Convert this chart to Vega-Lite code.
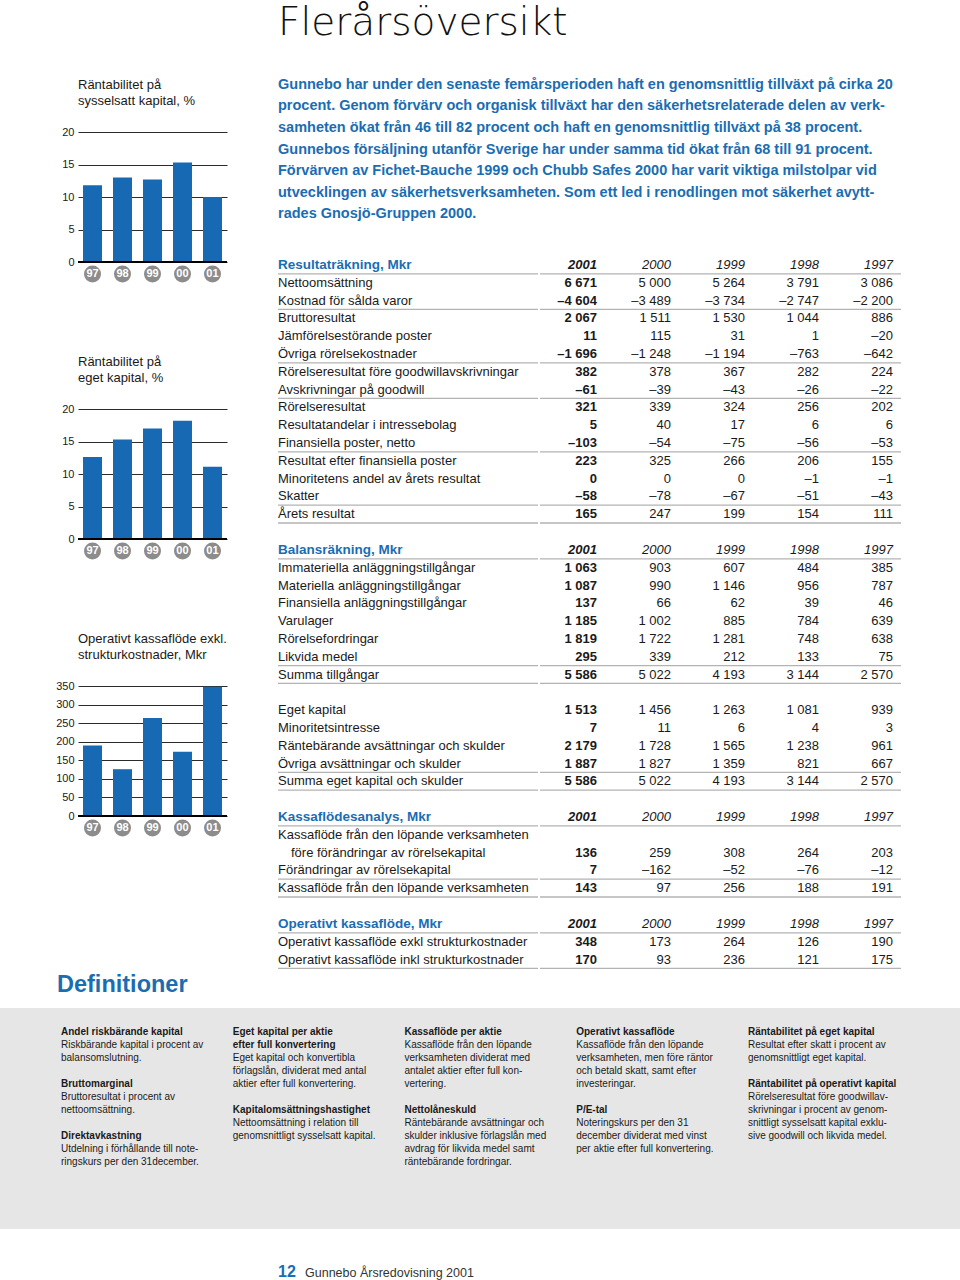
{
  "$schema": "https://vega.github.io/schema/vega-lite/v6.json",
  "background": "white",
  "padding": {"top": 4, "left": 0, "right": 0, "bottom": 0},
  "config": {
    "view": {"stroke": null},
    "font": "Liberation Sans",
    "locale": {"number": {"decimal": ",", "thousands": "\u00a0", "grouping": [3], "currency": ["", " kr"], "minus": "\u2013"}}
  },
  "datasets": {
    "rsk": [{"ar": "97", "varde": 11.8}, {"ar": "98", "varde": 13.0}, {"ar": "99", "varde": 12.7}, {"ar": "00", "varde": 15.3}, {"ar": "01", "varde": 10.0}],
    "rek": [{"ar": "97", "varde": 12.6}, {"ar": "98", "varde": 15.3}, {"ar": "99", "varde": 17.0}, {"ar": "00", "varde": 18.2}, {"ar": "01", "varde": 11.1}],
    "okf": [{"ar": "97", "varde": 190}, {"ar": "98", "varde": 126}, {"ar": "99", "varde": 264}, {"ar": "00", "varde": 173}, {"ar": "01", "varde": 348}],
    "ingress": [
      {"rad": 0, "text": "Gunnebo har under den senaste femårsperioden haft en genomsnittlig tillväxt på cirka 20"},
      {"rad": 1, "text": "procent. Genom förvärv och organisk tillväxt har den säkerhetsrelaterade delen av verk-"},
      {"rad": 2, "text": "samheten ökat från 46 till 82 procent och haft en genomsnittlig tillväxt på 38 procent."},
      {"rad": 3, "text": "Gunnebos försäljning utanför Sverige har under samma tid ökat från 68 till 91 procent."},
      {"rad": 4, "text": "Förvärven av Fichet-Bauche 1999 och Chubb Safes 2000 har varit viktiga milstolpar vid"},
      {"rad": 5, "text": "utvecklingen av säkerhetsverksamheten. Som ett led i renodlingen mot säkerhet avytt-"},
      {"rad": 6, "text": "rades Gnosjö-Gruppen 2000."}
    ],
    "resultat": [
      {"rad": 0, "post": "Resultaträkning, Mkr"},
      {"rad": 1, "post": "Nettoomsättning", "2001": 6671, "2000": 5000, "1999": 5264, "1998": 3791, "1997": 3086},
      {"rad": 2, "post": "Kostnad för sålda varor", "2001": -4604, "2000": -3489, "1999": -3734, "1998": -2747, "1997": -2200},
      {"rad": 3, "post": "Bruttoresultat", "2001": 2067, "2000": 1511, "1999": 1530, "1998": 1044, "1997": 886},
      {"rad": 4, "post": "Jämförelsestörande poster", "2001": 11, "2000": 115, "1999": 31, "1998": 1, "1997": -20},
      {"rad": 5, "post": "Övriga rörelsekostnader", "2001": -1696, "2000": -1248, "1999": -1194, "1998": -763, "1997": -642},
      {"rad": 6, "post": "Rörelseresultat före goodwillavskrivningar", "2001": 382, "2000": 378, "1999": 367, "1998": 282, "1997": 224},
      {"rad": 7, "post": "Avskrivningar på goodwill", "2001": -61, "2000": -39, "1999": -43, "1998": -26, "1997": -22},
      {"rad": 8, "post": "Rörelseresultat", "2001": 321, "2000": 339, "1999": 324, "1998": 256, "1997": 202},
      {"rad": 9, "post": "Resultatandelar i intressebolag", "2001": 5, "2000": 40, "1999": 17, "1998": 6, "1997": 6},
      {"rad": 10, "post": "Finansiella poster, netto", "2001": -103, "2000": -54, "1999": -75, "1998": -56, "1997": -53},
      {"rad": 11, "post": "Resultat efter finansiella poster", "2001": 223, "2000": 325, "1999": 266, "1998": 206, "1997": 155},
      {"rad": 12, "post": "Minoritetens andel av årets resultat", "2001": 0, "2000": 0, "1999": 0, "1998": -1, "1997": -1},
      {"rad": 13, "post": "Skatter", "2001": -58, "2000": -78, "1999": -67, "1998": -51, "1997": -43},
      {"rad": 14, "post": "Årets resultat", "2001": 165, "2000": 247, "1999": 199, "1998": 154, "1997": 111}
    ],
    "balans": [
      {"rad": 0, "post": "Balansräkning, Mkr"},
      {"rad": 1, "post": "Immateriella anläggningstillgångar", "2001": 1063, "2000": 903, "1999": 607, "1998": 484, "1997": 385},
      {"rad": 2, "post": "Materiella anläggningstillgångar", "2001": 1087, "2000": 990, "1999": 1146, "1998": 956, "1997": 787},
      {"rad": 3, "post": "Finansiella anläggningstillgångar", "2001": 137, "2000": 66, "1999": 62, "1998": 39, "1997": 46},
      {"rad": 4, "post": "Varulager", "2001": 1185, "2000": 1002, "1999": 885, "1998": 784, "1997": 639},
      {"rad": 5, "post": "Rörelsefordringar", "2001": 1819, "2000": 1722, "1999": 1281, "1998": 748, "1997": 638},
      {"rad": 6, "post": "Likvida medel", "2001": 295, "2000": 339, "1999": 212, "1998": 133, "1997": 75},
      {"rad": 7, "post": "Summa tillgångar", "2001": 5586, "2000": 5022, "1999": 4193, "1998": 3144, "1997": 2570},
      {"rad": 9, "post": "Eget kapital", "2001": 1513, "2000": 1456, "1999": 1263, "1998": 1081, "1997": 939},
      {"rad": 10, "post": "Minoritetsintresse", "2001": 7, "2000": 11, "1999": 6, "1998": 4, "1997": 3},
      {"rad": 11, "post": "Räntebärande avsättningar och skulder", "2001": 2179, "2000": 1728, "1999": 1565, "1998": 1238, "1997": 961},
      {"rad": 12, "post": "Övriga avsättningar och skulder", "2001": 1887, "2000": 1827, "1999": 1359, "1998": 821, "1997": 667},
      {"rad": 13, "post": "Summa eget kapital och skulder", "2001": 5586, "2000": 5022, "1999": 4193, "1998": 3144, "1997": 2570}
    ],
    "kassaflode": [
      {"rad": 0, "post": "Kassaflödesanalys, Mkr"},
      {"rad": 1, "post": "Kassaflöde från den löpande verksamheten"},
      {"rad": 2, "niva": 2, "post": "före förändringar av rörelsekapital", "2001": 136, "2000": 259, "1999": 308, "1998": 264, "1997": 203},
      {"rad": 3, "post": "Förändringar av rörelsekapital", "2001": 7, "2000": -162, "1999": -52, "1998": -76, "1997": -12},
      {"rad": 4, "post": "Kassaflöde från den löpande verksamheten", "2001": 143, "2000": 97, "1999": 256, "1998": 188, "1997": 191}
    ],
    "operativt": [
      {"rad": 0, "post": "Operativt kassaflöde, Mkr"},
      {"rad": 1, "post": "Operativt kassaflöde exkl strukturkostnader", "2001": 348, "2000": 173, "1999": 264, "1998": 126, "1997": 190},
      {"rad": 2, "post": "Operativt kassaflöde inkl strukturkostnader", "2001": 170, "2000": 93, "1999": 236, "1998": 121, "1997": 175}
    ],
    "linjer": [
      {"tabell": "resultat", "efter": 0}, {"tabell": "resultat", "efter": 2}, {"tabell": "resultat", "efter": 5}, {"tabell": "resultat", "efter": 7}, {"tabell": "resultat", "efter": 10}, {"tabell": "resultat", "efter": 13}, {"tabell": "resultat", "efter": 14},
      {"tabell": "balans", "efter": 0}, {"tabell": "balans", "efter": 6}, {"tabell": "balans", "efter": 7}, {"tabell": "balans", "efter": 12}, {"tabell": "balans", "efter": 13},
      {"tabell": "kassaflode", "efter": 0}, {"tabell": "kassaflode", "efter": 3}, {"tabell": "kassaflode", "efter": 4},
      {"tabell": "operativt", "efter": 0}, {"tabell": "operativt", "efter": 2}
    ],
    "definitioner": [
      {"kol": 1, "rad": 0, "typ": "rubrik", "text": "Andel riskbärande kapital"},
      {"kol": 1, "rad": 1, "typ": "text", "text": "Riskbärande kapital i procent av"},
      {"kol": 1, "rad": 2, "typ": "text", "text": "balansomslutning."},
      {"kol": 1, "rad": 4, "typ": "rubrik", "text": "Bruttomarginal"},
      {"kol": 1, "rad": 5, "typ": "text", "text": "Bruttoresultat i procent av"},
      {"kol": 1, "rad": 6, "typ": "text", "text": "nettoomsättning."},
      {"kol": 1, "rad": 8, "typ": "rubrik", "text": "Direktavkastning"},
      {"kol": 1, "rad": 9, "typ": "text", "text": "Utdelning i förhållande till note-"},
      {"kol": 1, "rad": 10, "typ": "text", "text": "ringskurs per den 31december."},
      {"kol": 2, "rad": 0, "typ": "rubrik", "text": "Eget kapital per aktie"},
      {"kol": 2, "rad": 1, "typ": "rubrik", "text": "efter full konvertering"},
      {"kol": 2, "rad": 2, "typ": "text", "text": "Eget kapital och konvertibla"},
      {"kol": 2, "rad": 3, "typ": "text", "text": "förlagslån, dividerat med antal"},
      {"kol": 2, "rad": 4, "typ": "text", "text": "aktier efter full konvertering."},
      {"kol": 2, "rad": 6, "typ": "rubrik", "text": "Kapitalomsättningshastighet"},
      {"kol": 2, "rad": 7, "typ": "text", "text": "Nettoomsättning i relation till"},
      {"kol": 2, "rad": 8, "typ": "text", "text": "genomsnittligt sysselsatt kapital."},
      {"kol": 3, "rad": 0, "typ": "rubrik", "text": "Kassaflöde per aktie"},
      {"kol": 3, "rad": 1, "typ": "text", "text": "Kassaflöde från den löpande"},
      {"kol": 3, "rad": 2, "typ": "text", "text": "verksamheten dividerat med"},
      {"kol": 3, "rad": 3, "typ": "text", "text": "antalet aktier efter full kon-"},
      {"kol": 3, "rad": 4, "typ": "text", "text": "vertering."},
      {"kol": 3, "rad": 6, "typ": "rubrik", "text": "Nettolåneskuld"},
      {"kol": 3, "rad": 7, "typ": "text", "text": "Räntebärande avsättningar och"},
      {"kol": 3, "rad": 8, "typ": "text", "text": "skulder inklusive förlagslån med"},
      {"kol": 3, "rad": 9, "typ": "text", "text": "avdrag för likvida medel samt"},
      {"kol": 3, "rad": 10, "typ": "text", "text": "räntebärande fordringar."},
      {"kol": 4, "rad": 0, "typ": "rubrik", "text": "Operativt kassaflöde"},
      {"kol": 4, "rad": 1, "typ": "text", "text": "Kassaflöde från den löpande"},
      {"kol": 4, "rad": 2, "typ": "text", "text": "verksamheten, men före räntor"},
      {"kol": 4, "rad": 3, "typ": "text", "text": "och betald skatt, samt efter"},
      {"kol": 4, "rad": 4, "typ": "text", "text": "investeringar."},
      {"kol": 4, "rad": 6, "typ": "rubrik", "text": "P/E-tal"},
      {"kol": 4, "rad": 7, "typ": "text", "text": "Noteringskurs per den 31"},
      {"kol": 4, "rad": 8, "typ": "text", "text": "december dividerat med vinst"},
      {"kol": 4, "rad": 9, "typ": "text", "text": "per aktie efter full konvertering."},
      {"kol": 5, "rad": 0, "typ": "rubrik", "text": "Räntabilitet på eget kapital"},
      {"kol": 5, "rad": 1, "typ": "text", "text": "Resultat efter skatt i procent av"},
      {"kol": 5, "rad": 2, "typ": "text", "text": "genomsnittligt eget kapital."},
      {"kol": 5, "rad": 4, "typ": "rubrik", "text": "Räntabilitet på operativt kapital"},
      {"kol": 5, "rad": 5, "typ": "text", "text": "Rörelseresultat före goodwillav-"},
      {"kol": 5, "rad": 6, "typ": "text", "text": "skrivningar i procent av genom-"},
      {"kol": 5, "rad": 7, "typ": "text", "text": "snittligt sysselsatt kapital exklu-"},
      {"kol": 5, "rad": 8, "typ": "text", "text": "sive goodwill och likvida medel."}
    ]
  },
  "title": {"text": "Flerårsöversikt", "anchor": "start", "frame": "group", "dx": 278, "font": "DejaVu Sans", "fontSize": 39, "fontWeight": 300, "color": "#111111", "offset": 32},
  "spacing": 2,
  "vconcat": [
    {
      "spacing": 49,
      "hconcat": [
        {"width": 5, "height": 1, "data": {"values": []}, "mark": "point", "encoding": {}},
        {
          "spacing": 2,
          "vconcat": [
            {"width": 1, "height": 1, "data": {"values": []}, "mark": "point", "encoding": {}},
            {
              "spacing": 72,
              "vconcat": [
                {
                  "width": 149, "height": 130,
                  "title": {"text": ["Räntabilitet på", "sysselsatt kapital, %"], "anchor": "start", "frame": "group", "fontSize": 13, "fontWeight": "normal", "color": "#1a1a1a", "lineHeight": 16.5, "offset": 18},
                  "data": {"name": "rsk"},
                  "layer": [
                    {"mark": {"type": "bar", "color": "#1769b3"},
                     "encoding": {
                       "x": {"field": "ar", "type": "ordinal", "scale": {"type": "band", "domain": ["97", "98", "99", "00", "01"], "paddingInner": 0.367, "paddingOuter": 0.167, "round": false}, "axis": null},
                       "y": {"field": "varde", "type": "quantitative", "scale": {"domain": [0, 20], "nice": false}, "axis": {"values": [0, 5, 10, 15, 20], "grid": true, "gridColor": "#2b2b2b", "gridWidth": 1, "domain": false, "ticks": false, "labelPadding": 4, "labelFontSize": 11, "labelColor": "#1a1a1a", "title": null, "minExtent": 24, "maxExtent": 24}}}},
                    {"mark": {"type": "rule", "color": "#000000", "strokeWidth": 2},
                     "encoding": {"y": {"datum": 0, "type": "quantitative", "scale": {"domain": [0, 20], "nice": false}, "axis": {"values": [0, 5, 10, 15, 20], "grid": true, "gridColor": "#2b2b2b", "gridWidth": 1, "domain": false, "ticks": false, "labelPadding": 4, "labelFontSize": 11, "labelColor": "#1a1a1a", "title": null, "minExtent": 24, "maxExtent": 24}}}},
                    {"mark": {"type": "circle", "color": "#8c8c8c", "opacity": 1, "size": 290, "yOffset": 12},
                     "encoding": {"x": {"field": "ar", "type": "ordinal", "axis": null}, "y": {"datum": 0, "type": "quantitative", "scale": {"domain": [0, 20], "nice": false}, "axis": {"values": [0, 5, 10, 15, 20], "grid": true, "gridColor": "#2b2b2b", "gridWidth": 1, "domain": false, "ticks": false, "labelPadding": 4, "labelFontSize": 11, "labelColor": "#1a1a1a", "title": null, "minExtent": 24, "maxExtent": 24}}}},
                    {"mark": {"type": "text", "color": "white", "fontWeight": "bold", "fontSize": 11, "yOffset": 12, "baseline": "middle"},
                     "encoding": {"x": {"field": "ar", "type": "ordinal", "axis": null}, "y": {"datum": 0, "type": "quantitative", "scale": {"domain": [0, 20], "nice": false}, "axis": {"values": [0, 5, 10, 15, 20], "grid": true, "gridColor": "#2b2b2b", "gridWidth": 1, "domain": false, "ticks": false, "labelPadding": 4, "labelFontSize": 11, "labelColor": "#1a1a1a", "title": null, "minExtent": 24, "maxExtent": 24}}, "text": {"field": "ar"}}}
                  ]
                },
                {
                  "width": 149, "height": 130,
                  "title": {"text": ["Räntabilitet på", "eget kapital, %"], "anchor": "start", "frame": "group", "fontSize": 13, "fontWeight": "normal", "color": "#1a1a1a", "lineHeight": 16.5, "offset": 18},
                  "data": {"name": "rek"},
                  "layer": [
                    {"mark": {"type": "bar", "color": "#1769b3"},
                     "encoding": {
                       "x": {"field": "ar", "type": "ordinal", "scale": {"type": "band", "domain": ["97", "98", "99", "00", "01"], "paddingInner": 0.367, "paddingOuter": 0.167, "round": false}, "axis": null},
                       "y": {"field": "varde", "type": "quantitative", "scale": {"domain": [0, 20], "nice": false}, "axis": {"values": [0, 5, 10, 15, 20], "grid": true, "gridColor": "#2b2b2b", "gridWidth": 1, "domain": false, "ticks": false, "labelPadding": 4, "labelFontSize": 11, "labelColor": "#1a1a1a", "title": null, "minExtent": 24, "maxExtent": 24}}}},
                    {"mark": {"type": "rule", "color": "#000000", "strokeWidth": 2},
                     "encoding": {"y": {"datum": 0, "type": "quantitative", "scale": {"domain": [0, 20], "nice": false}, "axis": {"values": [0, 5, 10, 15, 20], "grid": true, "gridColor": "#2b2b2b", "gridWidth": 1, "domain": false, "ticks": false, "labelPadding": 4, "labelFontSize": 11, "labelColor": "#1a1a1a", "title": null, "minExtent": 24, "maxExtent": 24}}}},
                    {"mark": {"type": "circle", "color": "#8c8c8c", "opacity": 1, "size": 290, "yOffset": 12},
                     "encoding": {"x": {"field": "ar", "type": "ordinal", "axis": null}, "y": {"datum": 0, "type": "quantitative", "scale": {"domain": [0, 20], "nice": false}, "axis": {"values": [0, 5, 10, 15, 20], "grid": true, "gridColor": "#2b2b2b", "gridWidth": 1, "domain": false, "ticks": false, "labelPadding": 4, "labelFontSize": 11, "labelColor": "#1a1a1a", "title": null, "minExtent": 24, "maxExtent": 24}}}},
                    {"mark": {"type": "text", "color": "white", "fontWeight": "bold", "fontSize": 11, "yOffset": 12, "baseline": "middle"},
                     "encoding": {"x": {"field": "ar", "type": "ordinal", "axis": null}, "y": {"datum": 0, "type": "quantitative", "scale": {"domain": [0, 20], "nice": false}, "axis": {"values": [0, 5, 10, 15, 20], "grid": true, "gridColor": "#2b2b2b", "gridWidth": 1, "domain": false, "ticks": false, "labelPadding": 4, "labelFontSize": 11, "labelColor": "#1a1a1a", "title": null, "minExtent": 24, "maxExtent": 24}}, "text": {"field": "ar"}}}
                  ]
                },
                {
                  "width": 149, "height": 130,
                  "title": {"text": ["Operativt kassaflöde exkl.", "strukturkostnader, Mkr"], "anchor": "start", "frame": "group", "fontSize": 13, "fontWeight": "normal", "color": "#1a1a1a", "lineHeight": 16.5, "offset": 18},
                  "data": {"name": "okf"},
                  "layer": [
                    {"mark": {"type": "bar", "color": "#1769b3"},
                     "encoding": {
                       "x": {"field": "ar", "type": "ordinal", "scale": {"type": "band", "domain": ["97", "98", "99", "00", "01"], "paddingInner": 0.367, "paddingOuter": 0.167, "round": false}, "axis": null},
                       "y": {"field": "varde", "type": "quantitative", "scale": {"domain": [0, 350], "nice": false}, "axis": {"values": [0, 50, 100, 150, 200, 250, 300, 350], "grid": true, "gridColor": "#2b2b2b", "gridWidth": 1, "domain": false, "ticks": false, "labelPadding": 4, "labelFontSize": 11, "labelColor": "#1a1a1a", "title": null, "minExtent": 24, "maxExtent": 24}}}},
                    {"mark": {"type": "rule", "color": "#000000", "strokeWidth": 2},
                     "encoding": {"y": {"datum": 0, "type": "quantitative", "scale": {"domain": [0, 350], "nice": false}, "axis": {"values": [0, 50, 100, 150, 200, 250, 300, 350], "grid": true, "gridColor": "#2b2b2b", "gridWidth": 1, "domain": false, "ticks": false, "labelPadding": 4, "labelFontSize": 11, "labelColor": "#1a1a1a", "title": null, "minExtent": 24, "maxExtent": 24}}}},
                    {"mark": {"type": "circle", "color": "#8c8c8c", "opacity": 1, "size": 290, "yOffset": 12},
                     "encoding": {"x": {"field": "ar", "type": "ordinal", "axis": null}, "y": {"datum": 0, "type": "quantitative", "scale": {"domain": [0, 350], "nice": false}, "axis": {"values": [0, 50, 100, 150, 200, 250, 300, 350], "grid": true, "gridColor": "#2b2b2b", "gridWidth": 1, "domain": false, "ticks": false, "labelPadding": 4, "labelFontSize": 11, "labelColor": "#1a1a1a", "title": null, "minExtent": 24, "maxExtent": 24}}}},
                    {"mark": {"type": "text", "color": "white", "fontWeight": "bold", "fontSize": 11, "yOffset": 12, "baseline": "middle"},
                     "encoding": {"x": {"field": "ar", "type": "ordinal", "axis": null}, "y": {"datum": 0, "type": "quantitative", "scale": {"domain": [0, 350], "nice": false}, "axis": {"values": [0, 50, 100, 150, 200, 250, 300, 350], "grid": true, "gridColor": "#2b2b2b", "gridWidth": 1, "domain": false, "ticks": false, "labelPadding": 4, "labelFontSize": 11, "labelColor": "#1a1a1a", "title": null, "minExtent": 24, "maxExtent": 24}}, "text": {"field": "ar"}}}
                  ]
                }
              ]
            }
          ]
        },
        {
          "spacing": 32,
          "vconcat": [
            {
              "width": 621, "height": 149,
              "data": {"name": "ingress"},
              "mark": {"type": "text", "align": "left", "baseline": "middle", "fontWeight": "bold", "fontSize": 14.5, "color": "#1a6db3"},
              "encoding": {
                "x": {"datum": "text", "type": "nominal", "scale": {"type": "point", "domain": ["text"], "padding": 0, "align": 0}, "axis": null},
                "y": {"field": "rad", "type": "ordinal", "scale": {"type": "point", "padding": 0.465, "round": false}, "axis": null},
                "text": {"field": "text"}
              }
            },
            {
              "spacing": 17.0,
              "vconcat": [
                {
                  "spacing": 0,
                  "hconcat": [
                    {
                      "width": 260, "height": 267,
                      "data": {"name": "resultat"},
                      "layer": [
                        {"data": {"name": "linjer"}, "transform": [{"filter": "datum.tabell === 'resultat'"}],
                         "mark": {"type": "rule", "color": "#b3b3b3", "strokeWidth": 1.3},
                         "encoding": {"y": {"field": "efter", "type": "ordinal", "bandPosition": 1, "scale": {"type": "band", "domain": [0,1,2,3,4,5,6,7,8,9,10,11,12,13,14], "paddingInner": 0, "paddingOuter": 0, "round": false}, "axis": null}}},
                        {"mark": {"type": "text", "align": "left", "baseline": "middle", "fontWeight": {"expr": "datum.rad === 0 ? 'bold' : 'normal'"}, "dx": {"expr": "datum.niva === 2 ? 13 : 0"}},
                         "encoding": {
                           "x": {"datum": "post", "type": "nominal", "scale": {"type": "point", "domain": ["post"], "padding": 0, "align": 0}, "axis": null},
                           "y": {"field": "rad", "type": "ordinal", "scale": {"type": "band", "domain": [0,1,2,3,4,5,6,7,8,9,10,11,12,13,14], "paddingInner": 0, "paddingOuter": 0, "round": false}, "axis": null},
                           "text": {"field": "post"},
                           "color": {"condition": {"test": "datum.rad === 0", "value": "#1a6db3"}, "value": "#1a1a1a"},
                           "size": {"condition": {"test": "datum.rad === 0", "value": 13.5}, "value": 13}}}
                      ]
                    },
                    {
                      "width": 361, "height": 267,
                      "data": {"name": "resultat"},
                      "transform": [{"fold": ["2001", "2000", "1999", "1998", "1997"], "as": ["ar", "varde"]}],
                      "layer": [
                        {"data": {"name": "linjer"}, "transform": [{"filter": "datum.tabell === 'resultat'"}],
                         "mark": {"type": "rule", "color": "#b3b3b3", "strokeWidth": 1.3},
                         "encoding": {"y": {"field": "efter", "type": "ordinal", "bandPosition": 1, "scale": {"type": "band", "domain": [0,1,2,3,4,5,6,7,8,9,10,11,12,13,14], "paddingInner": 0, "paddingOuter": 0, "round": false}, "axis": null}}},
                        {"transform": [{"filter": "datum.rad === 0"}],
                         "mark": {"type": "text", "align": "right", "baseline": "middle", "fontStyle": "italic", "fontSize": 13, "color": "#1a1a1a", "fontWeight": {"expr": "datum.ar === '2001' ? 'bold' : 'normal'"}},
                         "encoding": {
                           "x": {"field": "ar", "type": "nominal", "scale": {"type": "point", "domain": ["2001", "2000", "1999", "1998", "1997"], "padding": 0.439, "align": 0.877, "round": false}, "axis": null},
                           "y": {"field": "rad", "type": "ordinal", "scale": {"type": "band", "domain": [0,1,2,3,4,5,6,7,8,9,10,11,12,13,14], "paddingInner": 0, "paddingOuter": 0, "round": false}, "axis": null},
                           "text": {"field": "ar"}}},
                        {"transform": [{"filter": "datum.rad !== 0 && isValid(datum.varde)"}],
                         "mark": {"type": "text", "align": "right", "baseline": "middle", "fontSize": 13, "color": "#1a1a1a", "fontWeight": {"expr": "datum.ar === '2001' ? 'bold' : 'normal'"}},
                         "encoding": {
                           "x": {"field": "ar", "type": "nominal", "scale": {"type": "point", "domain": ["2001", "2000", "1999", "1998", "1997"], "padding": 0.439, "align": 0.877, "round": false}, "axis": null},
                           "y": {"field": "rad", "type": "ordinal", "scale": {"type": "band", "domain": [0,1,2,3,4,5,6,7,8,9,10,11,12,13,14], "paddingInner": 0, "paddingOuter": 0, "round": false}, "axis": null},
                           "text": {"field": "varde", "type": "quantitative", "format": ",d"}}}
                      ]
                    }
                  ]
                },
                {
                  "spacing": 0,
                  "hconcat": [
                    {
                      "width": 260, "height": 249.2,
                      "data": {"name": "balans"},
                      "layer": [
                        {"data": {"name": "linjer"}, "transform": [{"filter": "datum.tabell === 'balans'"}],
                         "mark": {"type": "rule", "color": "#b3b3b3", "strokeWidth": 1.3},
                         "encoding": {"y": {"field": "efter", "type": "ordinal", "bandPosition": 1, "scale": {"type": "band", "domain": [0,1,2,3,4,5,6,7,8,9,10,11,12,13], "paddingInner": 0, "paddingOuter": 0, "round": false}, "axis": null}}},
                        {"mark": {"type": "text", "align": "left", "baseline": "middle", "fontWeight": {"expr": "datum.rad === 0 ? 'bold' : 'normal'"}, "dx": {"expr": "datum.niva === 2 ? 13 : 0"}},
                         "encoding": {
                           "x": {"datum": "post", "type": "nominal", "scale": {"type": "point", "domain": ["post"], "padding": 0, "align": 0}, "axis": null},
                           "y": {"field": "rad", "type": "ordinal", "scale": {"type": "band", "domain": [0,1,2,3,4,5,6,7,8,9,10,11,12,13], "paddingInner": 0, "paddingOuter": 0, "round": false}, "axis": null},
                           "text": {"field": "post"},
                           "color": {"condition": {"test": "datum.rad === 0", "value": "#1a6db3"}, "value": "#1a1a1a"},
                           "size": {"condition": {"test": "datum.rad === 0", "value": 13.5}, "value": 13}}}
                      ]
                    },
                    {
                      "width": 361, "height": 249.2,
                      "data": {"name": "balans"},
                      "transform": [{"fold": ["2001", "2000", "1999", "1998", "1997"], "as": ["ar", "varde"]}],
                      "layer": [
                        {"data": {"name": "linjer"}, "transform": [{"filter": "datum.tabell === 'balans'"}],
                         "mark": {"type": "rule", "color": "#b3b3b3", "strokeWidth": 1.3},
                         "encoding": {"y": {"field": "efter", "type": "ordinal", "bandPosition": 1, "scale": {"type": "band", "domain": [0,1,2,3,4,5,6,7,8,9,10,11,12,13], "paddingInner": 0, "paddingOuter": 0, "round": false}, "axis": null}}},
                        {"transform": [{"filter": "datum.rad === 0"}],
                         "mark": {"type": "text", "align": "right", "baseline": "middle", "fontStyle": "italic", "fontSize": 13, "color": "#1a1a1a", "fontWeight": {"expr": "datum.ar === '2001' ? 'bold' : 'normal'"}},
                         "encoding": {
                           "x": {"field": "ar", "type": "nominal", "scale": {"type": "point", "domain": ["2001", "2000", "1999", "1998", "1997"], "padding": 0.439, "align": 0.877, "round": false}, "axis": null},
                           "y": {"field": "rad", "type": "ordinal", "scale": {"type": "band", "domain": [0,1,2,3,4,5,6,7,8,9,10,11,12,13], "paddingInner": 0, "paddingOuter": 0, "round": false}, "axis": null},
                           "text": {"field": "ar"}}},
                        {"transform": [{"filter": "datum.rad !== 0 && isValid(datum.varde)"}],
                         "mark": {"type": "text", "align": "right", "baseline": "middle", "fontSize": 13, "color": "#1a1a1a", "fontWeight": {"expr": "datum.ar === '2001' ? 'bold' : 'normal'"}},
                         "encoding": {
                           "x": {"field": "ar", "type": "nominal", "scale": {"type": "point", "domain": ["2001", "2000", "1999", "1998", "1997"], "padding": 0.439, "align": 0.877, "round": false}, "axis": null},
                           "y": {"field": "rad", "type": "ordinal", "scale": {"type": "band", "domain": [0,1,2,3,4,5,6,7,8,9,10,11,12,13], "paddingInner": 0, "paddingOuter": 0, "round": false}, "axis": null},
                           "text": {"field": "varde", "type": "quantitative", "format": ",d"}}}
                      ]
                    }
                  ]
                },
                {
                  "spacing": 0,
                  "hconcat": [
                    {
                      "width": 260, "height": 89,
                      "data": {"name": "kassaflode"},
                      "layer": [
                        {"data": {"name": "linjer"}, "transform": [{"filter": "datum.tabell === 'kassaflode'"}],
                         "mark": {"type": "rule", "color": "#b3b3b3", "strokeWidth": 1.3},
                         "encoding": {"y": {"field": "efter", "type": "ordinal", "bandPosition": 1, "scale": {"type": "band", "domain": [0,1,2,3,4], "paddingInner": 0, "paddingOuter": 0, "round": false}, "axis": null}}},
                        {"mark": {"type": "text", "align": "left", "baseline": "middle", "fontWeight": {"expr": "datum.rad === 0 ? 'bold' : 'normal'"}, "dx": {"expr": "datum.niva === 2 ? 13 : 0"}},
                         "encoding": {
                           "x": {"datum": "post", "type": "nominal", "scale": {"type": "point", "domain": ["post"], "padding": 0, "align": 0}, "axis": null},
                           "y": {"field": "rad", "type": "ordinal", "scale": {"type": "band", "domain": [0,1,2,3,4], "paddingInner": 0, "paddingOuter": 0, "round": false}, "axis": null},
                           "text": {"field": "post"},
                           "color": {"condition": {"test": "datum.rad === 0", "value": "#1a6db3"}, "value": "#1a1a1a"},
                           "size": {"condition": {"test": "datum.rad === 0", "value": 13.5}, "value": 13}}}
                      ]
                    },
                    {
                      "width": 361, "height": 89,
                      "data": {"name": "kassaflode"},
                      "transform": [{"fold": ["2001", "2000", "1999", "1998", "1997"], "as": ["ar", "varde"]}],
                      "layer": [
                        {"data": {"name": "linjer"}, "transform": [{"filter": "datum.tabell === 'kassaflode'"}],
                         "mark": {"type": "rule", "color": "#b3b3b3", "strokeWidth": 1.3},
                         "encoding": {"y": {"field": "efter", "type": "ordinal", "bandPosition": 1, "scale": {"type": "band", "domain": [0,1,2,3,4], "paddingInner": 0, "paddingOuter": 0, "round": false}, "axis": null}}},
                        {"transform": [{"filter": "datum.rad === 0"}],
                         "mark": {"type": "text", "align": "right", "baseline": "middle", "fontStyle": "italic", "fontSize": 13, "color": "#1a1a1a", "fontWeight": {"expr": "datum.ar === '2001' ? 'bold' : 'normal'"}},
                         "encoding": {
                           "x": {"field": "ar", "type": "nominal", "scale": {"type": "point", "domain": ["2001", "2000", "1999", "1998", "1997"], "padding": 0.439, "align": 0.877, "round": false}, "axis": null},
                           "y": {"field": "rad", "type": "ordinal", "scale": {"type": "band", "domain": [0,1,2,3,4], "paddingInner": 0, "paddingOuter": 0, "round": false}, "axis": null},
                           "text": {"field": "ar"}}},
                        {"transform": [{"filter": "datum.rad !== 0 && isValid(datum.varde)"}],
                         "mark": {"type": "text", "align": "right", "baseline": "middle", "fontSize": 13, "color": "#1a1a1a", "fontWeight": {"expr": "datum.ar === '2001' ? 'bold' : 'normal'"}},
                         "encoding": {
                           "x": {"field": "ar", "type": "nominal", "scale": {"type": "point", "domain": ["2001", "2000", "1999", "1998", "1997"], "padding": 0.439, "align": 0.877, "round": false}, "axis": null},
                           "y": {"field": "rad", "type": "ordinal", "scale": {"type": "band", "domain": [0,1,2,3,4], "paddingInner": 0, "paddingOuter": 0, "round": false}, "axis": null},
                           "text": {"field": "varde", "type": "quantitative", "format": ",d"}}}
                      ]
                    }
                  ]
                },
                {
                  "spacing": 0,
                  "hconcat": [
                    {
                      "width": 260, "height": 53.4,
                      "data": {"name": "operativt"},
                      "layer": [
                        {"data": {"name": "linjer"}, "transform": [{"filter": "datum.tabell === 'operativt'"}],
                         "mark": {"type": "rule", "color": "#b3b3b3", "strokeWidth": 1.3},
                         "encoding": {"y": {"field": "efter", "type": "ordinal", "bandPosition": 1, "scale": {"type": "band", "domain": [0,1,2], "paddingInner": 0, "paddingOuter": 0, "round": false}, "axis": null}}},
                        {"mark": {"type": "text", "align": "left", "baseline": "middle", "fontWeight": {"expr": "datum.rad === 0 ? 'bold' : 'normal'"}, "dx": {"expr": "datum.niva === 2 ? 13 : 0"}},
                         "encoding": {
                           "x": {"datum": "post", "type": "nominal", "scale": {"type": "point", "domain": ["post"], "padding": 0, "align": 0}, "axis": null},
                           "y": {"field": "rad", "type": "ordinal", "scale": {"type": "band", "domain": [0,1,2], "paddingInner": 0, "paddingOuter": 0, "round": false}, "axis": null},
                           "text": {"field": "post"},
                           "color": {"condition": {"test": "datum.rad === 0", "value": "#1a6db3"}, "value": "#1a1a1a"},
                           "size": {"condition": {"test": "datum.rad === 0", "value": 13.5}, "value": 13}}}
                      ]
                    },
                    {
                      "width": 361, "height": 53.4,
                      "data": {"name": "operativt"},
                      "transform": [{"fold": ["2001", "2000", "1999", "1998", "1997"], "as": ["ar", "varde"]}],
                      "layer": [
                        {"data": {"name": "linjer"}, "transform": [{"filter": "datum.tabell === 'operativt'"}],
                         "mark": {"type": "rule", "color": "#b3b3b3", "strokeWidth": 1.3},
                         "encoding": {"y": {"field": "efter", "type": "ordinal", "bandPosition": 1, "scale": {"type": "band", "domain": [0,1,2], "paddingInner": 0, "paddingOuter": 0, "round": false}, "axis": null}}},
                        {"transform": [{"filter": "datum.rad === 0"}],
                         "mark": {"type": "text", "align": "right", "baseline": "middle", "fontStyle": "italic", "fontSize": 13, "color": "#1a1a1a", "fontWeight": {"expr": "datum.ar === '2001' ? 'bold' : 'normal'"}},
                         "encoding": {
                           "x": {"field": "ar", "type": "nominal", "scale": {"type": "point", "domain": ["2001", "2000", "1999", "1998", "1997"], "padding": 0.439, "align": 0.877, "round": false}, "axis": null},
                           "y": {"field": "rad", "type": "ordinal", "scale": {"type": "band", "domain": [0,1,2], "paddingInner": 0, "paddingOuter": 0, "round": false}, "axis": null},
                           "text": {"field": "ar"}}},
                        {"transform": [{"filter": "datum.rad !== 0 && isValid(datum.varde)"}],
                         "mark": {"type": "text", "align": "right", "baseline": "middle", "fontSize": 13, "color": "#1a1a1a", "fontWeight": {"expr": "datum.ar === '2001' ? 'bold' : 'normal'"}},
                         "encoding": {
                           "x": {"field": "ar", "type": "nominal", "scale": {"type": "point", "domain": ["2001", "2000", "1999", "1998", "1997"], "padding": 0.439, "align": 0.877, "round": false}, "axis": null},
                           "y": {"field": "rad", "type": "ordinal", "scale": {"type": "band", "domain": [0,1,2], "paddingInner": 0, "paddingOuter": 0, "round": false}, "axis": null},
                           "text": {"field": "varde", "type": "quantitative", "format": ",d"}}}
                      ]
                    }
                  ]
                }
              ]
            }
          ]
        }
      ]
    },
    {
      "spacing": 35,
      "vconcat": [
        {
          "width": 960, "height": 221,
          "view": {"fill": "#e6e6e6", "stroke": null},
          "title": {"text": "Definitioner", "anchor": "start", "frame": "group", "dx": 57, "fontSize": 23.5, "fontWeight": "bold", "color": "#1a6db3", "offset": 12},
          "data": {"name": "definitioner"},
          "mark": {"type": "text", "align": "left", "baseline": "middle", "fontSize": 10, "color": "#1a1a1a", "fontWeight": {"expr": "datum.typ === 'rubrik' ? 'bold' : 'normal'"}},
          "encoding": {
            "x": {"field": "kol", "type": "ordinal", "scale": {"type": "point", "domain": [1, 2, 3, 4, 5], "padding": 0.795, "align": 0.2234, "round": false}, "axis": null},
            "y": {"field": "rad", "type": "ordinal", "scale": {"type": "point", "domain": [0,1,2,3,4,5,6,7,8,9,10,11,12,13,14,15], "padding": 1, "align": 0.923, "round": false}, "axis": null},
            "text": {"field": "text"}
          }
        },
        {
          "spacing": 0,
          "hconcat": [
            {"width": 278, "height": 1, "data": {"values": []}, "mark": "point", "encoding": {}},
            {
              "width": 27, "height": 12,
              "data": {"values": [{"del": "sida", "text": "12"}, {"del": "namn", "text": "Gunnebo Årsredovisning 2001"}]},
              "mark": {"type": "text", "align": "left", "baseline": "alphabetic", "fontWeight": {"expr": "datum.del === 'sida' ? 'bold' : 'normal'"}},
              "encoding": {
                "x": {"field": "del", "type": "nominal", "scale": {"type": "point", "domain": ["sida", "namn"], "padding": 0, "round": false}, "axis": null},
                "text": {"field": "text"},
                "color": {"condition": {"test": "datum.del === 'sida'", "value": "#1a6db3"}, "value": "#333333"},
                "size": {"condition": {"test": "datum.del === 'sida'", "value": 16}, "value": 12.5}
              }
            }
          ]
        }
      ]
    }
  ]
}
